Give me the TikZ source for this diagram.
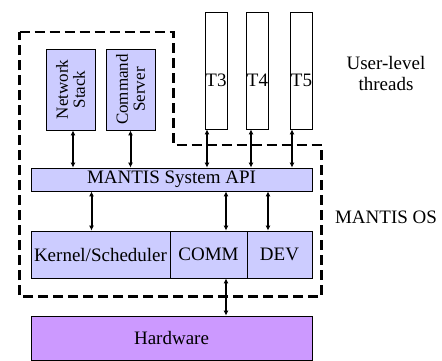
\documentclass[tikz,border=0pt]{standalone}
\usepackage{fontspec}
\setmainfont{Liberation Serif}
\usetikzlibrary{arrows.meta}
\definecolor{osblue}{HTML}{CCCCFF}
\definecolor{hwviolet}{HTML}{CC99FF}

\begin{document}
\begin{tikzpicture}[x=1pt, y=-1pt,
  every node/.style={inner sep=1pt, font=\fontsize{19}{21}\selectfont},
  layer/.style={draw, fill=osblue, line width=0.8pt},
  task/.style={layer, rotate=90, align=center, minimum width=81pt, minimum height=49pt, font=\fontsize{17}{17}\selectfont},
  thread/.style={draw, fill=white, line width=0.8pt, minimum width=22pt, minimum height=117pt, label={[yshift=-9.5pt]center:#1}},
  hw/.style={draw, fill=hwviolet, line width=0.8pt},
  link/.style={{Latex[length=5pt,width=5pt]}-{Latex[length=5pt,width=5pt]}, line width=2pt},
  region/.style={line width=2.4pt, dash pattern=on 10pt off 5pt}
]
\useasboundingbox (0,0) rectangle (442,360);

% OS boundary
\draw[region] (19.5,32) -- (173.5,32) -- (173.5,145) -- (321.5,145)
  -- (321.5,296.5) -- (19.5,296.5) -- cycle;

% system threads
\node[task] (net) at (70.5,89.5) {Network\\Stack};
\node[task] (cmd) at (130.5,89.5) {Command\\Server};

% user threads
\node[thread=T3] (t3) at (216,70.5) {};
\node[thread=T4] (t4) at (257.5,70.5) {};
\node[thread=T5] (t5) at (301.5,70.5) {};

% layers
\node[layer, minimum width=281pt, minimum height=23pt] (api) at (171.5,179.5) {MANTIS System API};
\node[layer, minimum width=139pt, minimum height=47pt] (kern) at (100.5,254.5) {Kernel/Scheduler};
\node[layer, minimum width=77pt, minimum height=47pt] (comm) at (208.5,254.5) {COMM};
\node[layer, minimum width=65pt, minimum height=47pt] (dev) at (279.5,254.5) {DEV};
\node[hw, minimum width=281pt, minimum height=44pt] (hard) at (171.5,338) {Hardware};

% labels
\node[align=center] (user) at (386,73) {User-level\\threads};
\node (mos) at (386,217) {MANTIS OS};

% links
\foreach \t/\dx in {net/2.5, cmd/0}
  \draw[link] ([xshift=\dx pt]\t.west) coordinate (a) -- (a |- api.north);
\foreach \t/\dx in {t3/-9, t4/-6.5, t5/-9.5}
  \draw[link] ([xshift=\dx pt]\t.south) coordinate (a) -- (a |- api.north);
\foreach \b/\dx in {kern/-9, comm/17.5, dev/-11.5}
  \draw[link] ([xshift=\dx pt]\b.north) coordinate (a) -- (a |- api.south);
\draw[link] ([xshift=17.5pt]comm.south) coordinate (a) -- (a |- hard.north);
\end{tikzpicture}
\end{document}
